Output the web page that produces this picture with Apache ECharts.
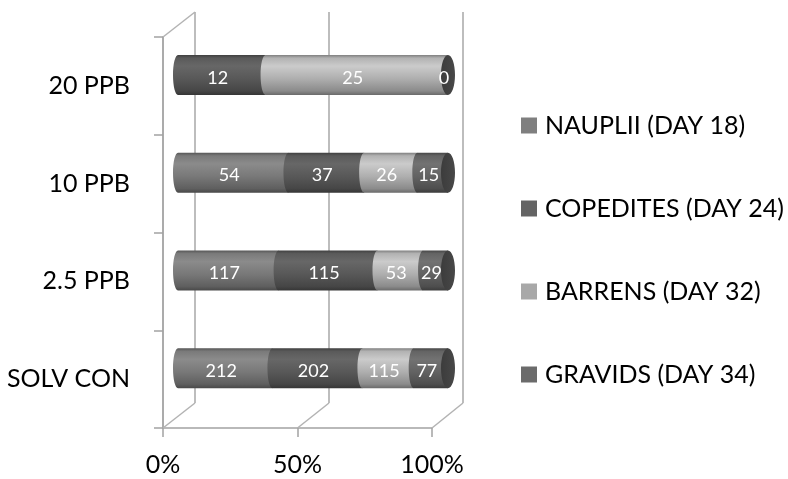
<!DOCTYPE html>
<html>
<head>
<meta charset="utf-8">
<script src="https://cdn.jsdelivr.net/npm/echarts@6/dist/echarts.min.js"></script>
<style>
  html, body { margin: 0; padding: 0; background: #fff; }
  #chart { width: 788px; height: 479px; }
</style>
</head>
<body>
<div id="chart"></div>
<script>
// Stage counts per treatment (bottom to top on the category axis)
const categories = ['SOLV CON', '2.5 PPB', '10 PPB', '20 PPB'];
const nauplii   = [212, 117, 54, null];
const copedites = [202, 115, 37, 12];
const barrens   = [115, 53, 26, 25];
const gravids   = [77, 29, 15, 0];

const seriesNames = ['NAUPLII (DAY 18)', 'COPEDITES (DAY 24)', 'BARRENS (DAY 32)', 'GRAVIDS (DAY 34)'];
const seriesValues = [nauplii, copedites, barrens, gravids];
const baseColors = ['#7a7a7a', '#5a5a5a', '#b2b2b2', '#646464'];
const legendColors = ['#7f7f7f', '#646464', '#a8a8a8', '#6b6b6b'];

const FONT = 'Lato, "Open Sans", sans-serif';

// Frame layout: front axes, back wall, and the cylinders in between
const FRONT = { left: 163, right: 356, top: 37, bottom: 51 };
const BACK  = { left: 195, right: 325, top: 12, bottom: 76 };
const BARS  = { left: 173, right: 345, top: 26, bottom: 62 };

const BAR_H = 40;      // cylinder diameter
const CAP_RX = 5;      // curvature of segment joints
const FACE_RX = 7;     // end face half-width

function shade(hex, f) {
  const n = parseInt(hex.slice(1), 16);
  const ch = [(n >> 16) & 255, (n >> 8) & 255, n & 255].map(c => Math.max(0, Math.min(255, Math.round(c * f))));
  return 'rgb(' + ch.join(',') + ')';
}

function cylGradient(hex) {
  return new echarts.graphic.LinearGradient(0, 0, 0, 1, [
    { offset: 0, color: shade(hex, 0.7) },
    { offset: 0.08, color: shade(hex, 1.0) },
    { offset: 0.28, color: shade(hex, 1.14) },
    { offset: 0.6, color: shade(hex, 0.98) },
    { offset: 0.9, color: shade(hex, 0.78) },
    { offset: 1, color: shade(hex, 0.6) }
  ]);
}

// Cumulative percentage extents for each segment
const totals = categories.map((_, c) => seriesValues.reduce((s, arr) => s + (arr[c] || 0), 0));
const segData = seriesValues.map(() => []);
categories.forEach((_, c) => {
  let acc = 0;
  seriesValues.forEach((arr, s) => {
    const v = arr[c];
    if (v === null || v === undefined) return;
    const start = acc / totals[c] * 100;
    acc += v;
    const end = acc / totals[c] * 100;
    segData[s].push([start, end, c, v]);
  });
});

const K = 0.5523;
function segmentPath(xa, xb, top, bottom, rx) {
  // body with a convex elliptical left end; right side stays straight
  const cy = (top + bottom) / 2, ry = (bottom - top) / 2;
  const cx = xa + rx;
  return 'M' + cx + ' ' + top +
    'L' + (xb + rx) + ' ' + top +
    'L' + (xb + rx) + ' ' + bottom +
    'L' + cx + ' ' + bottom +
    'C' + (cx - rx * K) + ' ' + bottom + ' ' + (cx - rx) + ' ' + (cy + ry * K) + ' ' + (cx - rx) + ' ' + cy +
    'C' + (cx - rx) + ' ' + (cy - ry * K) + ' ' + (cx - rx * K) + ' ' + top + ' ' + cx + ' ' + top + 'Z';
}
function ellipsePath(cx, cy, rx, ry) {
  return 'M' + cx + ' ' + (cy - ry) +
    'C' + (cx + rx * K) + ' ' + (cy - ry) + ' ' + (cx + rx) + ' ' + (cy - ry * K) + ' ' + (cx + rx) + ' ' + cy +
    'C' + (cx + rx) + ' ' + (cy + ry * K) + ' ' + (cx + rx * K) + ' ' + (cy + ry) + ' ' + cx + ' ' + (cy + ry) +
    'C' + (cx - rx * K) + ' ' + (cy + ry) + ' ' + (cx - rx) + ' ' + (cy + ry * K) + ' ' + (cx - rx) + ' ' + cy +
    'C' + (cx - rx) + ' ' + (cy - ry * K) + ' ' + (cx - rx * K) + ' ' + (cy - ry) + ' ' + cx + ' ' + (cy - ry) + 'Z';
}

function makeRenderer(sIdx) {
  const isLast = sIdx === seriesValues.length - 1;
  const base = baseColors[sIdx];
  return function (params, api) {
    const p0 = api.coord([api.value(0), api.value(2)]);
    const p1 = api.coord([api.value(1), api.value(2)]);
    const val = api.value(3);
    const cy = p0[1];
    const top = cy - BAR_H / 2, bottom = cy + BAR_H / 2;
    const children = [];
    if (p1[0] - p0[0] > 0.5) {
      children.push({
        type: 'path',
        shape: { pathData: segmentPath(p0[0], p1[0], top, bottom, CAP_RX) },
        style: { fill: cylGradient(base) }
      });
    }
    if (isLast) {
      children.push({
        type: 'path',
        shape: { pathData: ellipsePath(p1[0] + CAP_RX, cy, FACE_RX, BAR_H / 2) },
        style: { fill: new echarts.graphic.LinearGradient(0, 0, 1, 0, [
          { offset: 0, color: shade(base, 0.6) },
          { offset: 1, color: shade(base, 0.72) }
        ]) }
      });
    }
    children.push({
      type: 'text',
      style: {
        text: String(val),
        x: (p0[0] + p1[0]) / 2 + 1,
        y: cy + 3,
        fill: '#ffffff',
        font: '18px ' + FONT,
        align: 'center',
        verticalAlign: 'middle',
        textAlign: 'center',
        textVerticalAlign: 'middle'
      }
    });
    return { type: 'group', children: children };
  };
}

const chart = echarts.init(document.getElementById('chart'), null, { renderer: 'canvas' });

const option = {
  animation: false,
  backgroundColor: '#ffffff',
  textStyle: { fontFamily: FONT },
  legend: {
    orient: 'vertical',
    left: 516,
    top: 107,
    itemWidth: 16,
    itemHeight: 16,
    itemGap: 56,
    icon: 'rect',
    data: seriesNames,
    textStyle: { fontSize: 25, color: '#000', fontFamily: FONT, lineHeight: 27, padding: [0, 0, 0, 3] }
  },
  grid: [
    { left: FRONT.left, right: FRONT.right, top: FRONT.top, bottom: FRONT.bottom },
    { left: BACK.left, right: BACK.right, top: BACK.top, bottom: BACK.bottom },
    { left: BARS.left, right: BARS.right, top: BARS.top, bottom: BARS.bottom }
  ],
  xAxis: [
    {
      gridIndex: 0, type: 'value', min: 0, max: 100, interval: 50,
      axisLine: { show: true, lineStyle: { color: '#a3a3a3', width: 1.5 } },
      axisTick: { show: true, length: 9, lineStyle: { color: '#a3a3a3', width: 1.5 } },
      axisLabel: { formatter: '{value}%', fontSize: 25, color: '#000', margin: 24, fontFamily: FONT },
      splitLine: { show: false }
    },
    {
      gridIndex: 1, type: 'value', min: 0, max: 100, interval: 50,
      axisLine: { show: false }, axisTick: { show: false }, axisLabel: { show: false },
      splitLine: { show: true, lineStyle: { color: '#bdbdbd', width: 2 } }
    },
    {
      gridIndex: 2, type: 'value', min: 0, max: 100, show: false
    }
  ],
  yAxis: [
    {
      gridIndex: 0, type: 'category', data: categories,
      axisLine: { show: true, lineStyle: { color: '#8f8f8f', width: 1.5 } },
      axisTick: { show: true, length: 9, lineStyle: { color: '#a3a3a3', width: 1.5 } },
      axisLabel: { fontSize: 25, color: '#000', margin: 33, fontFamily: FONT, padding: [5, 0, 0, 0] },
      splitLine: { show: false }
    },
    {
      gridIndex: 1, type: 'category', data: categories, show: false
    },
    {
      gridIndex: 2, type: 'category', data: categories, show: false
    }
  ],
  series: seriesNames.map((name, i) => ({
    name: name,
    type: 'custom',
    xAxisIndex: 2,
    yAxisIndex: 2,
    z: 3 + i,
    itemStyle: { color: legendColors[i] },
    data: segData[i],
    encode: { x: [0, 1], y: 2 },
    renderItem: makeRenderer(i)
  }))
};

chart.setOption(option);

// Floor and top edges of the 3D frame, joining front axes to the back wall
(function drawFrameEdges() {
  const H = chart.getHeight();
  const frontFloor = H - FRONT.bottom;
  const backFloor = H - BACK.bottom;
  const lines = [];
  [0, 50, 100].forEach(v => {
    const xf = chart.convertToPixel({ xAxisIndex: 0 }, v);
    const xb = chart.convertToPixel({ xAxisIndex: 1 }, v);
    lines.push([xf, frontFloor, xb, backFloor]);
  });
  const xf0 = chart.convertToPixel({ xAxisIndex: 0 }, 0);
  const xb0 = chart.convertToPixel({ xAxisIndex: 1 }, 0);
  lines.push([xf0, FRONT.top, xb0, BACK.top]);
  chart.setOption({
    graphic: lines.map(l => ({
      type: 'line',
      silent: true,
      z: 1,
      shape: { x1: l[0], y1: l[1], x2: l[2], y2: l[3] },
      style: { stroke: '#b3b3b3', lineWidth: 1.5 }
    }))
  });
})();
</script>
</body>
</html>
